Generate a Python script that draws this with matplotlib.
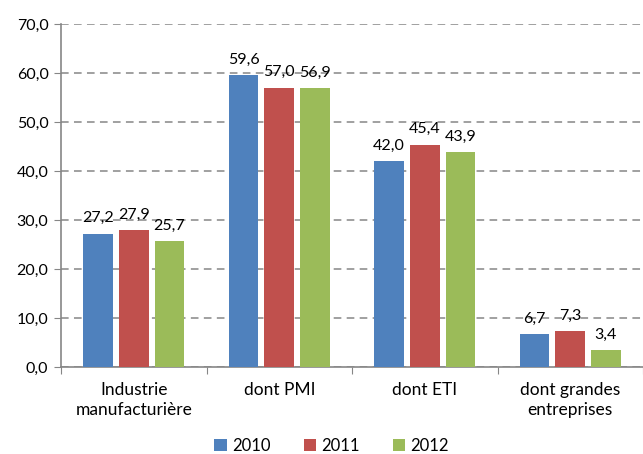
import numpy as np
import matplotlib.pyplot as plt

# données (en %)
categories = ["Industrie\nmanufacturière", "dont PMI", "dont ETI", "dont grandes\nentreprises"]
annees = ["2010", "2011", "2012"]
v2010 = [27.2, 59.6, 42.0, 6.7]
v2011 = [27.9, 57.0, 45.4, 7.3]
v2012 = [25.7, 56.9, 43.9, 3.4]
y_ticks = [0, 10, 20, 30, 40, 50, 60, 70]

couleurs = ["#4F81BD", "#C0504D", "#9BBB59"]

plt.rcParams["font.family"] = ["Lato", "DejaVu Sans"]

fig = plt.figure(figsize=(6.43, 4.54), dpi=100)
ax = fig.add_axes([61 / 643, 1 - 367 / 454, 582 / 643, 343 / 454])

x = np.arange(len(categories))
largeur = 0.204
pas = 0.245
series = [v2010, v2011, v2012]
for i, (vals, annee) in enumerate(zip(series, annees)):
    pos = x + (i - 1) * pas
    barres = ax.bar(pos, vals, largeur, color=couleurs[i], label=annee, zorder=3)
    for b, v in zip(barres, vals):
        ax.annotate(f"{v:.1f}".replace(".", ","), (b.get_x() + b.get_width() / 2, v),
                    xytext=(0, 6), textcoords="offset points",
                    ha="center", va="bottom", fontsize=11.5)

ax.set_ylim(0, 70)
ax.set_xlim(-0.5, 3.45)
ax.set_yticks(y_ticks)
ax.set_yticklabels([f"{t:.1f}".replace(".", ",") for t in y_ticks], fontsize=11.5)
ax.yaxis.grid(True, linestyle=(0, (5, 3.5)), color="#868686", linewidth=1.1, zorder=0)

# ticks de séparation entre catégories
ax.set_xticks(np.arange(-0.5, 4, 1))
ax.set_xticklabels([])
ax.set_xticks(x, minor=True)
ax.set_xticklabels(categories, minor=True, fontsize=12.5, linespacing=1.3)
ax.tick_params(axis="x", which="minor", length=0, pad=11)
ax.tick_params(axis="x", which="major", length=5, color="#868686")
ax.tick_params(axis="y", length=5, color="#868686", pad=4)

for s in ["top", "right"]:
    ax.spines[s].set_visible(False)
for s in ["left", "bottom"]:
    ax.spines[s].set_color("#868686")
    ax.spines[s].set_linewidth(1.2)

ax.legend(loc="center", bbox_to_anchor=(0.465, -(446 - 367) / 343), ncol=3, frameon=False,
          fontsize=12, handlelength=0.75, handleheight=0.75, handletextpad=0.3,
          columnspacing=2.0, borderpad=0)

fig.savefig("out.png", dpi=100)
